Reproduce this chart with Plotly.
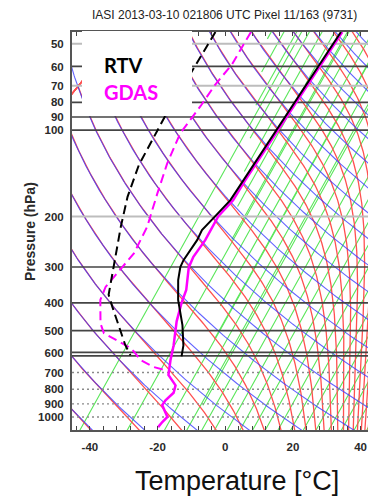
import numpy as np
import plotly.graph_objects as go

# ---------------- data ----------------
title_text = "IASI 2013-03-10 021806 UTC Pixel 11/163 (9731)"

rtv_t_p = [45.5, 56.9, 72.5, 92.3, 117.4, 149.4, 175.4, 199.5, 223, 241.9, 262, 284, 300, 333, 391, 478, 563, 615]
rtv_t = [-58.5, -57.2, -55.8, -54.4, -53.0, -51.6, -50.7, -51.3, -51.9, -50.9, -50.5, -50.1, -49.4, -46.9, -42.1, -34.8, -29.6, -27.5]

rtv_td_p = [45.5, 54.6, 62.4, 89.6, 132.4, 170.8, 217, 299, 352, 375, 413, 497, 561, 609]
rtv_td = [-95.6, -94.2, -93.1, -90.2, -86.2, -81.9, -76.7, -69.1, -65.2, -63.9, -59.9, -52.0, -46.9, -42.9]

gdas_t_p = [45.5, 56.9, 72.5, 92.3, 117.4, 149.4, 175.4, 199.5, 241.9, 276.4, 301, 361, 400, 464, 563, 633,
            714, 776, 823, 874, 909, 946, 1000, 1041, 1085]
gdas_t = [-58.1, -56.8, -55.4, -54.0, -52.6, -51.1, -49.9, -50.4, -48.5, -48.0, -46.8, -42.1, -40.4, -37.4, -32.5, -29.9,
          -26.9, -22.3, -21.1, -21.7, -21.5, -19.7, -17.1, -17.4, -17.4]

gdas_td_p = [45.5, 59.2, 69.5, 81.6, 102.7, 130.7, 166.2, 217, 269, 316, 352, 391, 435, 472, 511, 540, 570, 591, 633, 669, 690]
gdas_td = [-85.1, -82.9, -83.0, -82.2, -81.6, -78.2, -73.9, -68.9, -66.4, -66.5, -66.7, -65.1, -61.9, -59.4, -56.0, -50.4,
           -45.4, -42.8, -38.8, -33.3, -28.3]

p_ticks = [50, 60, 70, 80, 90, 100, 200, 300, 400, 500, 600, 700, 800, 900, 1000]
t_ticks = [-40, -20, 0, 20, 40]

# guide-line levels (pressure lines)
dark_levels = [60, 80, 90, 100, 300, 400, 500, 595, 612]
light_levels = [50, 70, 200]
dotted_levels = [700, 800, 900, 1000]

# ---------------- skew-T geometry ----------------
S = 30.0          # skew (degC per ln-pressure unit)
P_REF = 1000.0
P_BOT, P_TOP = 1110.0, 45.5
X_MIN, X_MAX = -45.3, 42.2


def skew(t, p):
    return np.asarray(t, float) + S * np.log(P_REF / np.asarray(p, float))


pg = np.geomspace(1120.0, 44.0, 220)

def join(lines_x, lines_y):
    xs, ys = [], []
    for lx, ly in zip(lines_x, lines_y):
        xs.extend(list(lx) + [None])
        ys.extend(list(ly) + [None])
    return xs, ys

# dry adiabats
theta_levels = np.arange(215, 546, 15)
dry_x, dry_y = [], []
for th in theta_levels:
    tk = th * (pg / 1000.0) ** 0.2857
    dry_x.append(skew(tk - 273.15, pg))
    dry_y.append(pg)

# moist (pseudo) adiabats: constant saturated theta-e
def theta_e_sat(tk, p):
    tc = tk - 273.15
    es = 6.112 * np.exp(17.67 * tc / (tc + 243.5))
    es = np.minimum(es, 0.5 * p)
    r = 622.0 * es / (p - es)
    th = tk * (1000.0 / p) ** (0.2854 * (1 - 0.28e-3 * r))
    expo = np.minimum((3.376 / tk - 0.00254) * r * (1 + 0.81e-3 * r), 50)
    return th * np.exp(expo)

moist_x, moist_y = [], []
for the in theta_levels:
    lo = np.full_like(pg, 150.0)
    hi = np.full_like(pg, 345.0)
    for _ in range(60):
        mid = 0.5 * (lo + hi)
        f = theta_e_sat(mid, pg) - the
        hi = np.where(f > 0, mid, hi)
        lo = np.where(f > 0, lo, mid)
    tk = 0.5 * (lo + hi)
    moist_x.append(skew(tk - 273.15, pg))
    moist_y.append(pg)

# green guide lines (straight, slanted)
G = 20.5
sparse_anchor = [-40.8, -26.8, -15.8, -9.2]
dense_anchor = list(np.arange(-80.0, 50.0, 3.75) + 0.25)
bx = -8.0 + (12.7 + 8.0) * np.log(P_BOT / pg) / np.log(P_BOT / P_TOP)
grn_x, grn_y = [], []
for a in sparse_anchor:
    grn_x.append(a + G * np.log(P_REF / pg))
    grn_y.append(pg)
for a in dense_anchor:
    xx = a + G * np.log(P_REF / pg)
    yy = pg.copy().astype(object)
    xo = xx.astype(object)
    mask = xx < bx
    xo[mask] = None
    yy[mask] = None
    grn_x.append(xo)
    grn_y.append(yy)

fig = go.Figure()

gx, gy = join(grn_x, grn_y)
fig.add_trace(go.Scatter(x=gx, y=gy, mode="lines", line=dict(color="rgb(90,230,90)", width=1.1),
                         hoverinfo="skip", showlegend=False))
mx, my = join(moist_x, moist_y)
fig.add_trace(go.Scatter(x=mx, y=my, mode="lines", line=dict(color="rgb(255,80,80)", width=1.3),
                         hoverinfo="skip", showlegend=False))
dx, dy = join(dry_x, dry_y)
fig.add_trace(go.Scatter(x=dx, y=dy, mode="lines", line=dict(color="rgba(60,60,255,0.8)", width=1.1),
                         hoverinfo="skip", showlegend=False))

# pressure lines
for lv in light_levels:
    fig.add_trace(go.Scatter(x=[X_MIN, X_MAX], y=[lv, lv], mode="lines",
                             line=dict(color="#bdbdbd", width=2), hoverinfo="skip", showlegend=False))
for lv in dark_levels:
    fig.add_trace(go.Scatter(x=[X_MIN, X_MAX], y=[lv, lv], mode="lines",
                             line=dict(color="#444444", width=1.7), hoverinfo="skip", showlegend=False))
for lv in dotted_levels:
    fig.add_trace(go.Scatter(x=[X_MIN, X_MAX], y=[lv, lv], mode="lines",
                             line=dict(color="#8a8a8a", width=1.4, dash="2px,3px"), hoverinfo="skip", showlegend=False))

# profiles
fig.add_trace(go.Scatter(x=skew(gdas_td, gdas_td_p), y=gdas_td_p, mode="lines", name="GDAS Td",
                         line=dict(color="#ff00ff", width=2, dash="9px,5px")))
fig.add_trace(go.Scatter(x=skew(rtv_td, rtv_td_p), y=rtv_td_p, mode="lines", name="RTV Td",
                         line=dict(color="#000000", width=2, dash="9px,5px")))
fig.add_trace(go.Scatter(x=skew(gdas_t, gdas_t_p), y=gdas_t_p, mode="lines", name="GDAS T",
                         line=dict(color="#ff00ff", width=2.5)))
fig.add_trace(go.Scatter(x=skew(rtv_t, rtv_t_p), y=rtv_t_p, mode="lines", name="RTV T",
                         line=dict(color="#000000", width=2)))

W, H = 368, 496
L, R, T, B = 72, 0, 32, 66
pw, ph = W - L - R, H - T - B

def px_x(px):
    return (px - L) / pw

def px_y(py):
    return (H - B - py) / ph

tick_font = dict(family="Liberation Sans, Arial, sans-serif", size=11.5, color="#2a2a2a", weight="bold")

fig.update_layout(
    width=W, height=H,
    margin=dict(l=L, r=R, t=T, b=B),
    paper_bgcolor="white", plot_bgcolor="white",
    showlegend=False,
    xaxis=dict(range=[X_MIN, X_MAX], tickvals=t_ticks, ticktext=[str(v) for v in t_ticks],
               ticks="inside", ticklen=4, tickcolor="#444", tickwidth=1,
               minor=dict(dtick=4, tick0=0, ticks="inside", ticklen=4, tickcolor="#444"),
               showgrid=False, zeroline=False, showline=True, linecolor="#555", linewidth=2,
               mirror="allticks", tickfont=tick_font, ticklabelstandoff=5),
    yaxis=dict(type="log", range=[np.log10(P_BOT), np.log10(P_TOP)], tickvals=p_ticks,
               ticktext=[str(v) for v in p_ticks], ticks="", showgrid=False, zeroline=False,
               showline=True, linecolor="#555", linewidth=2, tickfont=tick_font, ticklabelstandoff=4),
    shapes=[dict(type="rect", xref="paper", yref="paper", x0=px_x(82), x1=px_x(192), y0=px_y(116), y1=px_y(31),
                 fillcolor="white", line=dict(width=0), layer="above")],
    annotations=[
        dict(text=title_text, xref="paper", yref="paper", x=px_x(224), y=px_y(15), showarrow=False,
             xanchor="center", yanchor="middle", font=dict(family="Liberation Sans, Arial", size=12, color="#222")),
        dict(text="<b>Pressure (hPa)</b>", xref="paper", yref="paper", x=px_x(30), y=px_y(232), showarrow=False,
             textangle=-90, xanchor="center", yanchor="middle",
             font=dict(family="Liberation Sans, Arial", size=14, color="#2a2a2a")),
        dict(text="Temperature [°C]", xref="paper", yref="paper", x=px_x(237), y=px_y(481), showarrow=False,
             xanchor="center", yanchor="middle", font=dict(family="Liberation Sans, Arial", size=27, color="#111")),
        dict(text="<b>RTV</b>", xref="paper", yref="paper", x=px_x(102), y=px_y(64.5), showarrow=False,
             xanchor="left", yanchor="middle", font=dict(family="Lato, Open Sans, sans-serif", size=20, color="#000")),
        dict(text="<b>GDAS</b>", xref="paper", yref="paper", x=px_x(102), y=px_y(92), showarrow=False,
             xanchor="left", yanchor="middle", font=dict(family="Lato, Open Sans, sans-serif", size=20, color="#ff00ff")),
    ],
)

fig.write_html("out.html")
